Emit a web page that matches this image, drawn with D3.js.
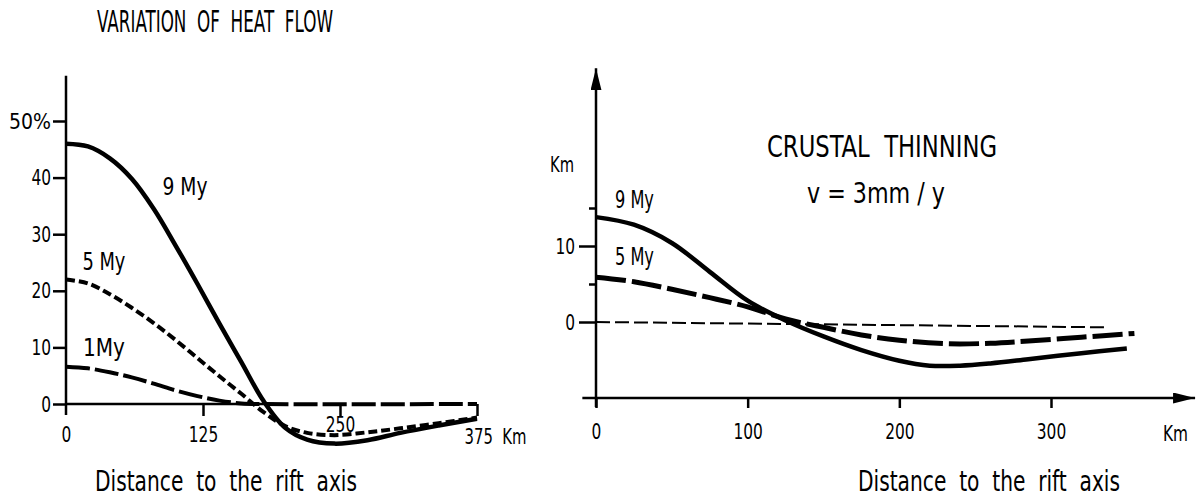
<!DOCTYPE html>
<html>
<head>
<meta charset="utf-8">
<script src="https://cdn.jsdelivr.net/npm/d3@7"></script>
<style>
  body { margin: 0; background: #fff; }
  text { font-family: "DejaVu Sans Condensed", "DejaVu Sans", sans-serif; fill: #000; white-space: pre; }
  .tick line, .axisLine { stroke: #000; stroke-width: 2.5; }
</style>
</head>
<body>
<div id="chart"></div>
<script>
// Heat flow variation (%), left panel
var heatKm = [0, 20, 40, 60, 80, 100, 120, 140, 160, 180, 200, 220, 245, 275, 305, 340, 375];
var heat9 = [46, 45.5, 43.4, 39.8, 34.5, 28, 21.2, 14.2, 7.4, 0.6, -4.2, -6.3, -7, -6.4, -5.1, -3.8, -2.6];
var heat5 = [22, 21.3, 19.4, 17, 14.3, 11.3, 8.1, 4.9, 1.8, -1.4, -3.9, -5.1, -5.5, -5, -4.3, -3.4, -2.4];
var heat1Km = [0, 20, 40, 60, 80, 100, 120, 140, 160, 180, 375];
var heat1 = [6.6, 6.3, 5.6, 4.7, 3.6, 2.4, 1.4, 0.6, 0.1, 0, 0];
var heatYTicks = [0, 10, 20, 30, 40, 50];
var heatXTicks = [0, 125, 250, 375];

// Crustal thinning (km), right panel
var crust9Km = [0, 25, 50, 75, 100, 125, 150, 175, 200, 220, 240, 260, 285, 320, 350];
var crust9 = [13.8, 12.8, 10.4, 6.6, 2.8, 0.2, -1.9, -3.7, -5.1, -5.75, -5.75, -5.45, -4.9, -4.1, -3.5];
var crust5Km = [0, 25, 50, 75, 100, 125, 150, 175, 200, 230, 260, 285, 320, 355];
var crust5 = [5.9, 5.3, 4.3, 3.2, 2.0, 0.4, -0.7, -1.7, -2.4, -2.85, -2.8, -2.5, -2.0, -1.5];
var crustZeroKm = [0, 337];
var crustZero = [0, -0.7];
var crustYTicks = [0, 5, 10, 15];
var crustXTicks = [0, 100, 200, 300];

var svg = d3.select("#chart")
  .append("svg")
  .attr("width", 1197)
  .attr("height", 500);

// arrow head marker for the right panel axes
svg.append("defs").append("marker")
  .attr("id", "arrow")
  .attr("viewBox", "0 0 20 10")
  .attr("refX", 20)
  .attr("refY", 5)
  .attr("markerUnits", "userSpaceOnUse")
  .attr("markerWidth", 22)
  .attr("markerHeight", 11)
  .attr("orient", "auto")
  .append("path")
  .attr("d", "M0,0L20,5L0,10Z")
  .attr("fill", "#000");

function drawCurve(xs, ys, x, y, width, dash) {
  var line = d3.line()
    .x((d, i) => x(xs[i]))
    .y(d => y(d))
    .curve(d3.curveCatmullRom.alpha(0.5));
  svg.append("path")
    .datum(ys)
    .attr("d", line)
    .attr("fill", "none")
    .attr("stroke", "#000")
    .attr("stroke-width", width)
    .attr("stroke-dasharray", dash);
}

function addText(txt, x, y, size, len, anchor) {
  var t = svg.append("text")
    .attr("x", x)
    .attr("y", y)
    .attr("font-size", size)
    .attr("text-anchor", anchor || "start")
    .text(txt);
  if (len) t.attr("textLength", len).attr("lengthAdjust", "spacingAndGlyphs");
  return t;
}

// narrow lettering for the tick labels
function styleTicks(g) {
  g.select(".domain").remove();
  g.selectAll("text")
    .attr("font-size", 22)
    .style("font-family", null)
    .each(function() {
      var n = this.textContent.length;
      if (n) d3.select(this).attr("textLength", n * 9.8).attr("lengthAdjust", "spacingAndGlyphs");
    });
}

// ---------------- left panel ----------------
var xL = d3.scaleLinear().domain([0, 375]).range([66, 477]);
var yL = d3.scaleLinear().domain([0, 50]).range([404, 121]);

var yAxisL = svg.append("g")
  .attr("transform", `translate(${xL(0)},0)`)
  .call(d3.axisLeft(yL).tickValues(heatYTicks).tickSize(13).tickPadding(2)
    .tickFormat(d => d === 50 ? "50%" : d));
styleTicks(yAxisL);
yAxisL.selectAll(".tick").filter(d => d === 50).select("text").attr("textLength", 42);

svg.append("line").classed("axisLine", true)
  .attr("x1", xL(0)).attr("x2", xL(0))
  .attr("y1", yL(58)).attr("y2", yL(0) + 11);

var xAxisL = svg.append("g")
  .attr("transform", `translate(0,${yL(0)})`)
  .call(d3.axisBottom(xL).tickValues(heatXTicks).tickSize(12).tickPadding(10)
    .tickFormat(d => d === 375 ? "375  Km" : d));
styleTicks(xAxisL);
xAxisL.selectAll(".tick").filter(d => d === 250).select("text").attr("dy", "0.25em");
xAxisL.selectAll(".tick").filter(d => d === 375).select("text")
  .attr("text-anchor", "start")
  .attr("x", -13)
  .attr("dy", "0.8em")
  .attr("textLength", 62);
xAxisL.selectAll(".tick").filter(d => d === 0).select("line").remove();

svg.append("line").classed("axisLine", true)
  .attr("x1", xL(0)).attr("x2", xL(190))
  .attr("y1", yL(0)).attr("y2", yL(0));

drawCurve(heatKm, heat9, xL, yL, 4.5, null);
drawCurve(heatKm, heat5, xL, yL, 4, "9,4");
drawCurve(heat1Km, heat1, xL, yL, 4, "24,5");

addText("9 My", xL(88), yL(37), 25, 45);
addText("5 My", xL(15), yL(23.6), 25, 43);
addText("1My", xL(15.5), yL(8.5), 25, 42);

addText("VARIATION  OF  HEAT  FLOW", 97, 32, 30, 236);
addText("Distance  to  the  rift  axis", 95, 491, 28, 262);

// ---------------- right panel ----------------
var xR = d3.scaleLinear().domain([0, 300]).range([596, 1051]);
var yR = d3.scaleLinear().domain([-10, 10]).range([398, 246]);

var yAxisR = svg.append("g")
  .attr("transform", `translate(${xR(0)},0)`)
  .call(d3.axisLeft(yR).tickValues(crustYTicks).tickSize(17).tickPadding(4)
    .tickFormat(d => (d === 0 || d === 10) ? d : ""));
styleTicks(yAxisR);
yAxisR.selectAll(".tick").filter(d => d === 5 || d === 15).select("line").attr("x2", -7);

svg.append("line").classed("axisLine", true)
  .attr("x1", xR(0)).attr("x2", xR(0))
  .attr("y1", yR(-11.2)).attr("y2", yR(33.4))
  .attr("marker-end", "url(#arrow)");

var xAxisR = svg.append("g")
  .attr("transform", `translate(0,${yR(-10)})`)
  .call(d3.axisBottom(xR).tickValues(crustXTicks).tickSize(10).tickPadding(15));
styleTicks(xAxisR);

svg.append("line").classed("axisLine", true)
  .attr("x1", xR(-9)).attr("x2", xR(395))
  .attr("y1", yR(-10)).attr("y2", yR(-10))
  .attr("marker-end", "url(#arrow)");

drawCurve(crustZeroKm, crustZero, xR, yR, 2, "14,5");
drawCurve(crust9Km, crust9, xR, yR, 4.5, null);
drawCurve(crust5Km, crust5, xR, yR, 5, "30,6");

addText("Km", xR(0) - 22, yR(19.8), 21, 24, "end");
addText("Km", 1163, 441, 21, 25);
addText("9 My", xR(12.5), yR(15), 25, 39);
addText("5 My", xR(12.5), yR(7.5), 25, 39);

addText("CRUSTAL  THINNING", 767, 157, 30, 230);
addText("v = 3mm / y", 807, 203, 28, 138);
addText("Distance  to  the  rift  axis", 858, 491, 28, 262);
</script>
</body>
</html>
